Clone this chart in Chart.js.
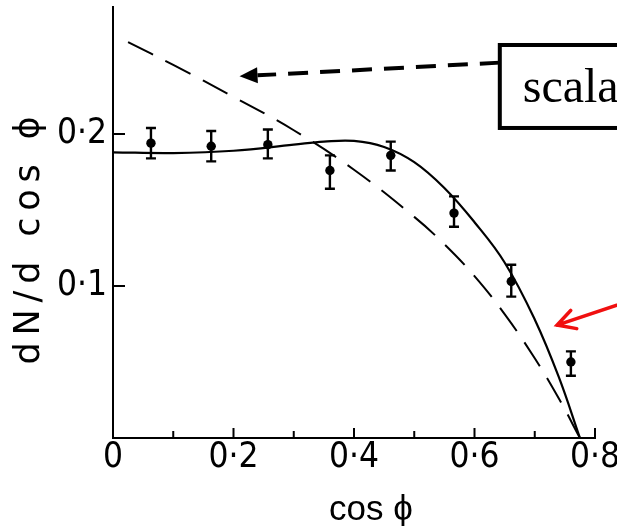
<!DOCTYPE html>
<html><head><meta charset="utf-8">
<script src="https://cdn.jsdelivr.net/npm/chart.js@4.4.0/dist/chart.umd.min.js"></script>
<style>html,body{margin:0;padding:0;background:#fff}canvas{display:block}</style>
</head><body>
<canvas id="c" width="617" height="526"></canvas>
<script>
// ---- data ----
const pointX  = [0.063, 0.163, 0.257, 0.360, 0.461, 0.566, 0.661, 0.760];
const pointY  = [0.194, 0.192, 0.193, 0.176, 0.186, 0.148, 0.103, 0.050];
const errLow  = [0.184, 0.182, 0.184, 0.164, 0.176, 0.139, 0.093, 0.041];
const errHigh = [0.204, 0.202, 0.203, 0.186, 0.195, 0.159, 0.114, 0.057];
const solidX = [0, 0.1, 0.2, 0.3, 0.35, 0.4, 0.45, 0.5, 0.55, 0.6, 0.65, 0.7, 0.74, 0.775];
const solidY = [0.188, 0.1875, 0.189, 0.193, 0.195, 0.1955, 0.1915, 0.1815, 0.1645, 0.142, 0.1155, 0.078, 0.040, 0];
const dashX = [0.025, 0.1, 0.2, 0.3, 0.4, 0.5, 0.55, 0.6, 0.65, 0.7, 0.74, 0.775];
const dashY = [0.2605, 0.2455, 0.2245, 0.2025, 0.1765, 0.1455, 0.1275, 0.1065, 0.0815, 0.0525, 0.026, 0];
const xTickValues = [0, 0.2, 0.4, 0.6, 0.8];
const xTickLabels = ['0', '0·2', '0·4', '0·6', '0·8'];
const xMinorTicks = [0.1, 0.3, 0.5, 0.7];
const yTickValues = [0.1, 0.2];
const yTickLabels = ['0·1', '0·2'];
const xTitle = 'cos ϕ';
const yTitle = 'dN/d cos ϕ';
const boxLabel = 'scala';
// annotation anchors (data coordinates)
const boxAnchor = {x0: 0.642, y0: 0.2586, y1: 0.204, x1: 0.95};
const boxTextAt = {x: 0.68, y: 0.221};
const blackArrow = {from: {x: 0.642, y: 0.247}, to: {x: 0.210, y: 0.238}};
const redArrow = {from: {x: 0.86, y: 0.0905}, to: {x: 0.737, y: 0.0743}};

const sansFont = '"Liberation Sans Narrow", "DejaVu Sans Condensed", "Liberation Sans", sans-serif';
const titleFont = '"Liberation Sans", "DejaVu Sans", sans-serif';

const toXY = (xs, ys) => xs.map((v, i) => ({x: v, y: ys[i]}));

const decor = {
  id: 'decor',
  afterDatasetsDraw(chart) {
    const {ctx, scales: {x, y}} = chart;
    ctx.save();
    ctx.strokeStyle = '#000';
    ctx.lineWidth = 2.4;
    pointX.forEach((v, i) => {
      const px = x.getPixelForValue(v);
      const t = y.getPixelForValue(errHigh[i]);
      const b = y.getPixelForValue(errLow[i]);
      ctx.beginPath();
      ctx.moveTo(px, t); ctx.lineTo(px, b);
      ctx.moveTo(px - 5, t); ctx.lineTo(px + 5, t);
      ctx.moveTo(px - 5, b); ctx.lineTo(px + 5, b);
      ctx.stroke();
    });
    ctx.restore();
  },
  afterDraw(chart) {
    const {ctx, chartArea: a, scales: {x, y}} = chart;
    ctx.save();
    // inward tick marks
    ctx.strokeStyle = '#000';
    ctx.lineWidth = 2;
    ctx.beginPath();
    xTickValues.slice(1).forEach(v => {
      const px = x.getPixelForValue(v);
      ctx.moveTo(px, a.bottom); ctx.lineTo(px, a.bottom - 10);
    });
    xMinorTicks.forEach(v => {
      const px = x.getPixelForValue(v);
      ctx.moveTo(px, a.bottom); ctx.lineTo(px, a.bottom - 7);
    });
    yTickValues.forEach(v => {
      const py = y.getPixelForValue(v);
      ctx.moveTo(a.left, py); ctx.lineTo(a.left + 12, py);
    });
    ctx.stroke();

    // axis titles
    ctx.fillStyle = '#000';
    ctx.font = '35px ' + titleFont;
    ctx.textAlign = 'center';
    ctx.textBaseline = 'middle';
    ctx.fillText(xTitle, x.getPixelForValue(0.428), a.bottom + 72);
    ctx.save();
    ctx.font = '35px "DejaVu Sans", "Liberation Sans", sans-serif';
    ctx.translate(a.left - 83, y.getPixelForValue(0.13));
    ctx.rotate(-Math.PI / 2);
    const w0 = ctx.measureText(yTitle).width;
    const n = [...yTitle].length;
    const sp = Math.max(0, (248 - w0) / (n - 1));
    ctx.letterSpacing = sp.toFixed(2) + 'px';
    ctx.fillText(yTitle, sp / 2, 0);
    ctx.restore();

    // box annotation
    const bx0 = x.getPixelForValue(boxAnchor.x0), bx1 = x.getPixelForValue(boxAnchor.x1);
    const by0 = y.getPixelForValue(boxAnchor.y0), by1 = y.getPixelForValue(boxAnchor.y1);
    ctx.lineWidth = 4;
    ctx.strokeRect(bx0, by0, bx1 - bx0, by1 - by0);
    ctx.font = '48px "Liberation Serif", "DejaVu Serif", serif';
    ctx.textAlign = 'left';
    ctx.textBaseline = 'alphabetic';
    ctx.fillText(boxLabel, x.getPixelForValue(boxTextAt.x), y.getPixelForValue(boxTextAt.y));

    // black dashed arrow
    const f1 = {x: x.getPixelForValue(blackArrow.from.x), y: y.getPixelForValue(blackArrow.from.y)};
    const t1 = {x: x.getPixelForValue(blackArrow.to.x), y: y.getPixelForValue(blackArrow.to.y)};
    const ang1 = Math.atan2(f1.y - t1.y, f1.x - t1.x);
    const headLen = 18, headW = 8;
    const base = {x: t1.x + Math.cos(ang1) * headLen, y: t1.y + Math.sin(ang1) * headLen};
    ctx.setLineDash([20, 12]);
    ctx.lineWidth = 4;
    ctx.beginPath();
    ctx.moveTo(f1.x, f1.y); ctx.lineTo(base.x, base.y);
    ctx.stroke();
    ctx.setLineDash([]);
    ctx.beginPath();
    ctx.moveTo(t1.x, t1.y);
    ctx.lineTo(base.x - Math.sin(ang1) * headW, base.y + Math.cos(ang1) * headW);
    ctx.lineTo(base.x + Math.sin(ang1) * headW, base.y - Math.cos(ang1) * headW);
    ctx.closePath();
    ctx.fill();

    // red arrow
    const f2 = {x: x.getPixelForValue(redArrow.from.x), y: y.getPixelForValue(redArrow.from.y)};
    const t2 = {x: x.getPixelForValue(redArrow.to.x), y: y.getPixelForValue(redArrow.to.y)};
    const ang2 = Math.atan2(f2.y - t2.y, f2.x - t2.x);
    ctx.strokeStyle = '#f01010';
    ctx.lineWidth = 3.5;
    ctx.lineCap = 'round';
    ctx.beginPath();
    ctx.moveTo(f2.x, f2.y); ctx.lineTo(t2.x, t2.y);
    ctx.moveTo(t2.x + Math.cos(ang2 - 0.5) * 20, t2.y + Math.sin(ang2 - 0.5) * 20);
    ctx.lineTo(t2.x, t2.y);
    ctx.lineTo(t2.x + Math.cos(ang2 + 0.5) * 20, t2.y + Math.sin(ang2 + 0.5) * 20);
    ctx.stroke();
    ctx.restore();
  }
};

new Chart(document.getElementById('c'), {
  type: 'scatter',
  data: {
    datasets: [
      {data: toXY(solidX, solidY), showLine: true, borderColor: '#000', borderWidth: 2.2,
       pointRadius: 0, tension: 0.4, fill: false},
      {data: toXY(dashX, dashY), showLine: true, borderColor: '#000', borderWidth: 2,
       borderDash: [28, 14], pointRadius: 0, tension: 0.4, fill: false},
      {data: toXY(pointX, pointY), showLine: false, pointRadius: 4.7,
       backgroundColor: '#000', borderColor: '#000', borderWidth: 0}
    ]
  },
  options: {
    responsive: false,
    animation: false,
    layout: {padding: {top: 7, right: 22, left: 0, bottom: 0}},
    plugins: {legend: {display: false}, tooltip: {enabled: false}},
    scales: {
      x: {
        type: 'linear', min: 0, max: 0.8,
        grid: {display: false, drawTicks: false},
        border: {display: true, color: '#000', width: 2},
        ticks: {color: '#000', padding: 2, maxRotation: 0, autoSkip: false,
                font: {family: sansFont, size: 35, lineHeight: 1},
                callback: (v, i) => xTickLabels[i]},
        afterBuildTicks: s => { s.ticks = xTickValues.map(v => ({value: v})); },
        afterFit: s => { s.height = 88; s.paddingLeft = 0; s.paddingRight = 0; }
      },
      y: {
        type: 'linear', min: 0, max: 0.2836,
        grid: {display: false, drawTicks: false},
        border: {display: true, color: '#000', width: 2},
        ticks: {color: '#000', padding: 6,
                font: {family: sansFont, size: 35, lineHeight: 1},
                callback: (v, i) => yTickLabels[i]},
        afterBuildTicks: s => { s.ticks = yTickValues.map(v => ({value: v})); },
        afterFit: s => { s.width = 113; s.paddingTop = 0; s.paddingBottom = 0; }
      }
    }
  },
  plugins: [decor]
});
</script>
</body></html>
